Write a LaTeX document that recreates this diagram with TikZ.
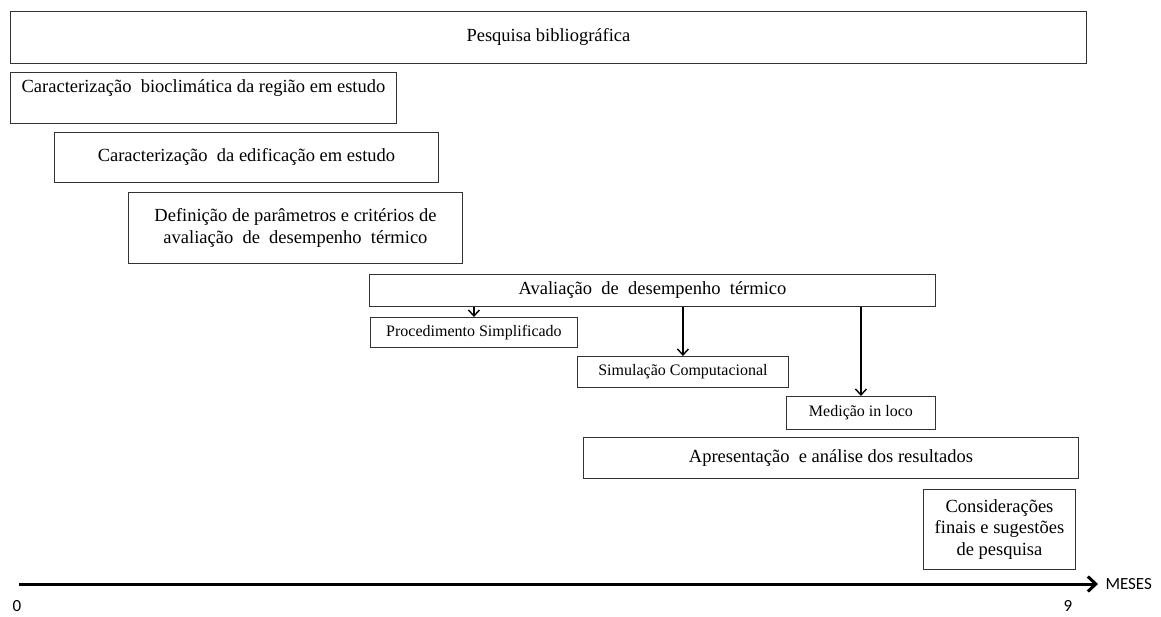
\documentclass[tikz,border=0pt]{standalone}
\usepackage{fontspec}
\setmainfont{Liberation Serif}
\newfontfamily\eixofont{Carlito}
\usetikzlibrary{arrows.meta}

\tikzset{
  etapa/.style={draw=black!80, line width=0.9pt, anchor=north west, inner sep=0pt,
    align=center, font=\fontsize{18.5}{22}\selectfont},
  subetapa/.style={etapa, font=\fontsize{16}{19}\selectfont},
  seta/.style={line width=1.4pt, -{Straight Barb[length=6pt,width=11pt]}},
  rotulo/.style={font=\eixofont\fontsize{17}{20}\selectfont, inner sep=0pt}
}

\begin{document}
\begin{tikzpicture}[x=1pt,y=-1pt]
     \useasboundingbox (0,0) rectangle (1161,616);

     \node[etapa, minimum width=1076, minimum height=52] (pesq) at (10,11) {Pesquisa bibliográfica};
     \node[etapa, minimum width=386, minimum height=51, text height=20pt, text depth=31pt] (bio) at (10,72)
          {Caracterização\ \ bioclimática da região em estudo};
     \node[etapa, minimum width=384, minimum height=50] (edif) at (54,132)
          {Caracterização\ \ da edificação em estudo};
     \node[etapa, minimum width=334, minimum height=71] (defi) at (128,192)
          {Definição de parâmetros e critérios de\\avaliação\ \ de\ \ desempenho\ \ térmico};
     \node[etapa, minimum width=566, minimum height=32] (aval) at (369,274)
          {Avaliação\ \ de\ \ desempenho\ \ térmico};

     \node[subetapa, minimum width=207, minimum height=30] (proc) at (370,317) {Procedimento Simplificado};
     \node[subetapa, minimum width=211, minimum height=31] (simu) at (577,356) {Simulação Computacional};
     \node[subetapa, minimum width=149, minimum height=33] (medi) at (786,396) {Medição in loco};

     \node[etapa, minimum width=495, minimum height=41] (apre) at (583,437)
          {Apresentação\ \ e análise dos resultados};
     \node[etapa, minimum width=152, minimum height=80, font=\fontsize{18.5}{21.5}\selectfont] (cons) at (923,489)
          {Considerações\\finais e sugestões\\de pesquisa};

     % desdobramentos da avaliacao
     \foreach \n in {proc,simu,medi}
          \draw[seta] (aval.south -| \n.north) -- (\n.north);

     % eixo do tempo
     \coordinate (t0) at (19,584);
     \coordinate (t9) at (1098,584);
     \draw[line width=3pt, -{Straight Barb[length=8pt,width=15pt]}] (t0) -- (t9) node[rotulo, right=6pt] (meses) {MESES};
     \node[rotulo] (zero) at (17,606) {0};
     \node[rotulo] (nove) at (1068,606) {9};
\end{tikzpicture}
\end{document}
